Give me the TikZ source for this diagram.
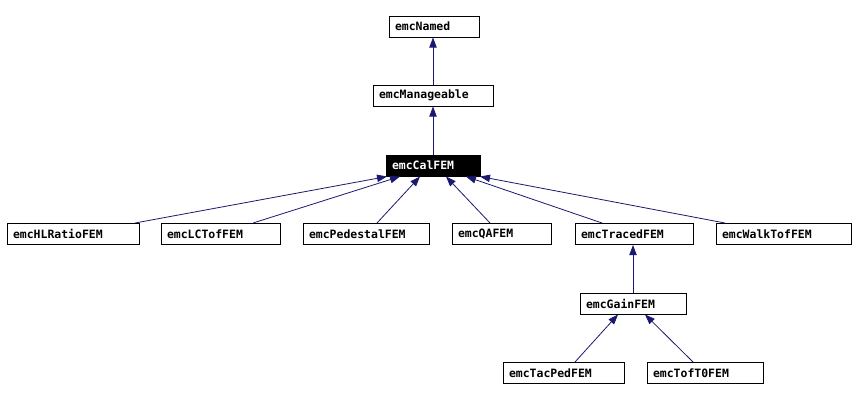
\documentclass[tikz,border=0pt]{standalone}
\usepackage{fontspec}
\setmonofont{DejaVu Sans Mono}
\usepackage{xcolor}
\usepackage{tikz}
\usetikzlibrary{arrows.meta, calc}
\definecolor{EdgeBlue}{HTML}{191970}
\tikzset{
  cls/.style={draw=black, line width=0.75pt, fill=white, text width=#1, align=left,
    inner xsep=4.5pt, inner ysep=0pt, minimum height=15.75pt,
    font=\ttfamily\bfseries\fontsize{8.6}{10}\selectfont},
  base/.style={cls=#1, fill=black, text=white},
  inherit/.style={-{Triangle[length=7.5pt, width=5.5pt]}, line width=0.6pt, color=EdgeBlue},
}

\begin{document}
\begin{tikzpicture}[x=0.75pt, y=-0.75pt]
  \useasboundingbox (0,0) rectangle (855,401);

  % Ancestors
  \node[cls=58.5pt] (Named) at (434,26.5) {emcNamed};
  \node[cls=81pt] (Manageable) at (433,95.5) {emcManageable};
  \node[base=61.5pt] (CalFEM) at (433,165.5) {emcCalFEM};

  % Direct subclasses
  \node[cls=90pt] (HLRatio) at (73,234) {emcHLRatioFEM};
  \node[cls=80.25pt] (LCTof) at (220.5,234) {emcLCTofFEM};
  \node[cls=85.5pt] (Pedestal) at (366,234) {emcPedestalFEM};
  \node[cls=65.25pt] (QA) at (501.5,234) {emcQAFEM};
  \node[cls=79.5pt] (Traced) at (634,234) {emcTracedFEM};
  \node[cls=92.25pt] (WalkTof) at (783.5,234) {emcWalkTofFEM};

  % Traced branch
  \node[cls=70.5pt] (Gain) at (633,303.5) {emcGainFEM};
  \node[cls=81.75pt] (TacPed) at (563.5,373) {emcTacPedFEM};
  \node[cls=78pt] (TofT0) at (705,373) {emcTofT0FEM};

  % Inheritance edges
  \draw[inherit] (Manageable.north) -- (Named.south -| Manageable.north);
  \draw[inherit] (CalFEM.north) -- (Manageable.south);

  \draw[inherit] ($(HLRatio.north)+(62,0)$) -- ($(CalFEM.south)+(-46,0)$);
  \draw[inherit] ($(LCTof.north)+(32.5,0)$) -- ($(CalFEM.south)+(-33,0)$);
  \draw[inherit] ($(Pedestal.north)+(11,0)$) -- ($(CalFEM.south)+(-13,0)$);
  \draw[inherit] ($(QA.north)+(-11.5,0)$) -- ($(CalFEM.south)+(13,0)$);
  \draw[inherit] ($(Traced.north)+(-32,0)$) -- ($(CalFEM.south)+(33,0)$);
  \draw[inherit] ($(WalkTof.north)+(-58.5,0)$) -- ($(CalFEM.south)+(47,0)$);

  \draw[inherit] (Gain.north) -- (Traced.south -| Gain.north);
  \draw[inherit] ($(TacPed.north)+(11.5,0)$) -- ($(Gain.south)+(-15,0)$);
  \draw[inherit] ($(TofT0.north)+(-12,0)$) -- ($(Gain.south)+(12,0)$);
\end{tikzpicture}
\end{document}
